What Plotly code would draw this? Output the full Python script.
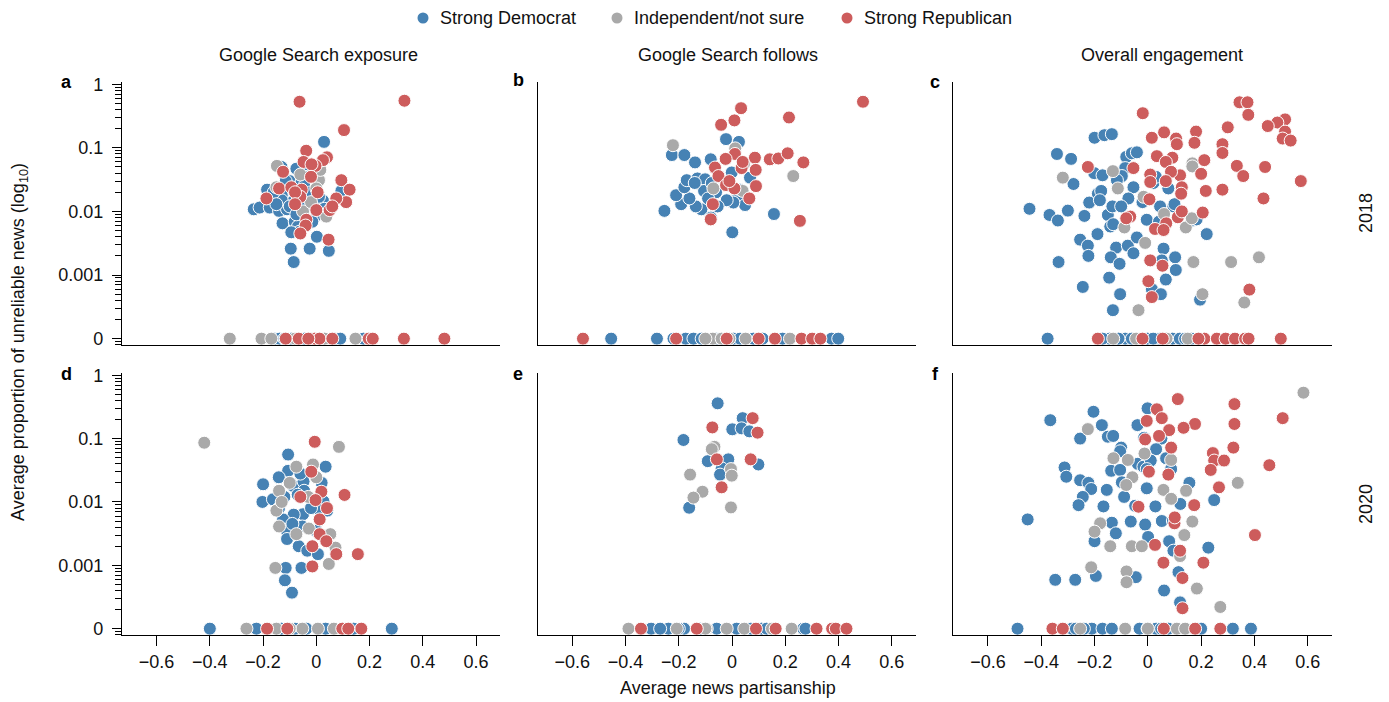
import plotly.graph_objects as go

# ---------------- data (x = average news partisanship, y = proportion unreliable; 0 = none) ----------------
PARTIES = ["Strong Democrat", "Independent/not sure", "Strong Republican"]
COLORS = ["#4682B4", "#A9A9A9", "#CD5C5C"]
COLUMN_TITLES = ["Google Search exposure", "Google Search follows", "Overall engagement"]
ROW_TITLES = ["2018", "2020"]
PANEL_LETTERS = ["a", "b", "c", "d", "e", "f"]
X_TICKS = [-0.6, -0.4, -0.2, 0, 0.2, 0.4, 0.6]
X_TICK_LABELS = ["\u22120.6", "\u22120.4", "\u22120.2", "0", "0.2", "0.4", "0.6"]
Y_TICK_LABELS = ["0", "0.001", "0.01", "0.1", "1"]

# ---- panel a: Google Search exposure, 2018
A_DEM_X = [0.029, -0.131, -0.053, -0.075, -0.034, 0.094, -0.185, -0.235, -0.213, -0.175, -0.14, -0.11, -0.088, -0.05,
           0.025, 0.002, -0.015, -0.127, -0.081, -0.069, -0.063, -0.094, 0.002, -0.096, -0.025, 0.047, -0.085, -0.13,
           -0.1, -0.07, -0.03, -0.01, -0.055, -0.115, -0.13, 0.03, -0.16, -0.045, -0.02, -0.1, -0.075, 0.01, -0.04,
           -0.15,
           -0.156, -0.138, -0.094, -0.044, 0.081, 0.177, -0.12, -0.02, 0.07, 0.09]
A_DEM_Y = [0.124, 0.05, 0.046, 0.047, 0.035, 0.021, 0.022, 0.0108, 0.0115, 0.0115, 0.0102, 0.0108, 0.0143, 0.0091,
           0.0148, 0.0088, 0.0069, 0.0065, 0.0069, 0.0058, 0.0048, 0.0047, 0.004, 0.0026, 0.0026, 0.0024, 0.0016, 0.018,
           0.03, 0.015, 0.017, 0.013, 0.03, 0.03, 0.015, 0.011, 0.02, 0.025, 0.02, 0.012, 0.009, 0.017, 0.012,
           0.013,
           0, 0, 0, 0, 0, 0, 0, 0, 0, 0]
A_IND_X = [-0.148, 0.01, 0.0, -0.15, 0.0375, -0.06, -0.05, 0.015, -0.02,
           -0.325, -0.206, -0.169, 0.031, 0.147, -0.08, 0.0]
A_IND_Y = [0.052, 0.031, 0.023, 0.024, 0.0083, 0.038, 0.01, 0.045, 0.014,
           0, 0, 0, 0, 0, 0, 0]
A_REP_X = [-0.063, 0.331, 0.104, -0.038, 0.04, 0.025, -0.048, -0.003, -0.018, -0.125, 0.094, 0.125, 0.112, 0.075,
           -0.14, -0.094, -0.055, -0.1875, 0.0, 0.05, -0.0375, 0.046, -0.06, -0.08, -0.08, 0.005, -0.04, -0.06, -0.02,
           0.06,
           -0.115, -0.066, -0.006, 0.012, 0.06, 0.197, 0.212, 0.329, 0.481, -0.03]
A_REP_Y = [0.53, 0.55, 0.19, 0.09, 0.071, 0.064, 0.06, 0.052, 0.055, 0.042, 0.031, 0.022, 0.014, 0.016,
           0.023, 0.024, 0.022, 0.016, 0.0105, 0.0105, 0.0074, 0.0036, 0.017, 0.02, 0.013, 0.02, 0.006, 0.0045, 0.035,
           0.012,
           0, 0, 0, 0, 0, 0, 0, 0, 0, 0]

# ---- panel b: Google Search follows, 2018
B_DEM_X = [-0.0225, 0.026, -0.226, -0.179, -0.139, -0.08, -0.001, 0.0675, 0.024, 0.049, 0.005, -0.02, -0.054, -0.115,
           -0.136, -0.191, -0.254, -0.21, -0.16, -0.179, -0.17, -0.1225, -0.13, -0.101, -0.105, -0.076, -0.079, 0.001,
           0.1575, -0.14, -0.06, -0.09, 0.03,
           -0.454, -0.282, -0.22, -0.174, -0.145, -0.114, 0.005, 0.08, 0.115, 0.19, 0.374, 0.399, -0.06, 0.03]
B_DEM_Y = [0.137, 0.124, 0.077, 0.077, 0.059, 0.066, 0.041, 0.034, 0.018, 0.0126, 0.0138, 0.015, 0.012, 0.0108,
           0.012, 0.013, 0.0102, 0.018, 0.016, 0.024, 0.031, 0.027, 0.033, 0.032, 0.021, 0.028, 0.008, 0.0047,
           0.0091, 0.028, 0.02, 0.016, 0.022,
           0, 0, 0, 0, 0, 0, 0, 0, 0, 0, 0, 0, 0, 0]
B_IND_X = [-0.222, 0.012, 0.045, 0.23, 0.04, -0.07,
           -0.072, -0.039, -0.01, 0.051, 0.2175, -0.1]
B_IND_Y = [0.11, 0.098, 0.056, 0.036, 0.021, 0.023,
           0, 0, 0, 0, 0, 0]
B_REP_X = [0.492, 0.034, 0.009, -0.041, 0.214, 0.011, -0.024, 0.036, 0.086, 0.142, 0.174, 0.209, 0.268, 0.089,
           -0.064, -0.051, 0.09, -0.0225, 0.009, 0.065, -0.072, -0.08, 0.255, 0.04, -0.01,
           -0.56, -0.21, 0.161, 0.261, 0.301, 0.332, 0.1, -0.02]
B_REP_Y = [0.53, 0.42, 0.27, 0.23, 0.30, 0.08, 0.067, 0.048, 0.07, 0.066, 0.068, 0.082, 0.059, 0.045,
           0.049, 0.036, 0.025, 0.026, 0.023, 0.016, 0.013, 0.0075, 0.0071, 0.06, 0.03,
           0, 0, 0, 0, 0, 0, 0, 0]

# ---- panel c: Overall engagement, 2018
C_DEM_X = [-0.2, -0.163, -0.135, -0.341, -0.288, -0.081, -0.06, -0.041, -0.085, -0.0975, -0.201, -0.17, -0.279,
           -0.116, -0.1875, -0.175, -0.054, 0.021, 0.077, -0.073, -0.22, -0.18, -0.444, -0.369, -0.3375, -0.3, -0.238,
           -0.15, -0.133, -0.1, -0.141, -0.13, 0.046, 0.096, -0.004, 0.042, 0.167, 0.183, 0.221, -0.189, -0.254,
           -0.225, -0.223, -0.335, -0.119, -0.075, -0.054, -0.139, -0.106, -0.041, 0.059, 0.0525, 0.1025, 0.105,
           0.0675, 0.015, 0.049, -0.104, -0.244, -0.131, -0.145, 0.196, 0.1, 0.03, -0.02,
           -0.376, -0.144, -0.085, -0.001, 0.046, 0.092, 0.1625, -0.17, -0.11, 0.02, 0.12, -0.06, 0.14]
C_DEM_Y = [0.144, 0.158, 0.164, 0.08, 0.067, 0.072, 0.082, 0.085, 0.048, 0.036, 0.04, 0.037, 0.027,
           0.031, 0.019, 0.021, 0.024, 0.028, 0.023, 0.016, 0.0138, 0.015, 0.011, 0.0088, 0.0072, 0.0103, 0.0085,
           0.0088, 0.012, 0.012, 0.0058, 0.0063, 0.012, 0.012, 0.0074, 0.0069, 0.0072, 0.0075, 0.0044, 0.0044, 0.0036,
           0.0029, 0.002, 0.0016, 0.0027, 0.0029, 0.0022, 0.0019, 0.0015, 0.0039, 0.0026, 0.0017, 0.0019, 0.0012,
           0.00085, 0.0006, 0.0005, 0.0005, 0.00065, 0.00028, 0.00091, 0.00041, 0.013, 0.035, 0.014,
           0, 0, 0, 0, 0, 0, 0, 0, 0, 0, 0, 0, 0]
C_IND_X = [0.167, 0.167, -0.319, -0.131, -0.1125, -0.016, 0.061, -0.088, 0.1425, -0.01, 0.171, 0.3125, 0.417, 0.205,
           0.362, -0.035, 0.165,
           -0.044, 0.07, -0.13, 0.15]
C_IND_Y = [0.057, 0.051, 0.034, 0.043, 0.023, 0.017, 0.0091, 0.0056, 0.0056, 0.0032, 0.0016, 0.0016, 0.0019, 0.0005,
           0.00037, 0.00028, 0.0078,
           0, 0, 0, 0]
C_REP_X = [0.344, 0.374, 0.377, -0.019, 0.515, 0.486, 0.45, 0.515, 0.506, 0.536, 0.3, 0.181, 0.061, 0.015, 0.106,
           0.109, 0.175, 0.28, 0.28, 0.034, 0.092, 0.0675, 0.212, 0.334, 0.358, 0.44, 0.574, 0.434, 0.28, 0.2175, 0.2,
           0.121, 0.087, 0.0675, 0.009, 0.009, -0.054, -0.225, 0.1275, 0.125, 0.006, 0.206, 0.1125, 0.1275, 0.069,
           0.027, 0.059, -0.066, -0.081, 0.009, 0.055, 0.002, 0.015, 0.381,
           -0.1875, 0.056, 0.212, 0.259, 0.292, 0.327, 0.365, 0.378, 0.499, 0.19, -0.02]
C_REP_Y = [0.52, 0.52, 0.33, 0.35, 0.28, 0.25, 0.22, 0.18, 0.14, 0.13, 0.21, 0.18, 0.175, 0.144, 0.14,
           0.114, 0.12, 0.114, 0.083, 0.074, 0.07, 0.06, 0.064, 0.052, 0.036, 0.05, 0.03, 0.016, 0.022, 0.021, 0.039,
           0.037, 0.042, 0.03, 0.038, 0.029, 0.048, 0.05, 0.024, 0.019, 0.0155, 0.0096, 0.0081, 0.01, 0.0065,
           0.0053, 0.0051, 0.0083, 0.0078, 0.0017, 0.0014, 0.0008, 0.00045, 0.00059,
           0, 0, 0, 0, 0, 0, 0, 0, 0, 0, 0]

# ---- panel d: Google Search exposure, 2020
D_DEM_X = [-0.106, 0.035, -0.106, -0.141, -0.2, -0.0875, -0.048, -0.046, 0.027, -0.2025, -0.163, 0.041, 0.006, -0.05,
           -0.085, -0.125, -0.0525, -0.1125, -0.11, -0.066, -0.034, 0.006, -0.115, -0.056, -0.118, -0.0915, -0.12,
           -0.07, -0.02, -0.09, 0.0, -0.14, 0.02, -0.06,
           -0.4, -0.225, -0.131, -0.0375, 0.035, 0.14, 0.2835, -0.08, 0.1]
D_DEM_Y = [0.056, 0.036, 0.031, 0.0245, 0.019, 0.018, 0.021, 0.015, 0.0102, 0.01, 0.011, 0.0073, 0.0077, 0.0064,
           0.0063, 0.0053, 0.0041, 0.0036, 0.0026, 0.002, 0.0017, 0.0015, 0.00091, 0.00091, 0.00058, 0.00037, 0.012,
           0.013, 0.008, 0.0045, 0.0035, 0.008, 0.02, 0.028,
           0, 0, 0, 0, 0, 0, 0, 0, 0]
D_IND_X = [-0.421, 0.085, -0.0125, -0.075, 0.0, -0.14, -0.15, -0.14, -0.028, -0.075, 0.0525, 0.072, 0.047, -0.154,
           -0.1, -0.03, -0.13,
           -0.2625, -0.15, -0.0525, 0.006, 0.066, -0.1]
D_IND_Y = [0.086, 0.074, 0.039, 0.036, 0.0245, 0.015, 0.0073, 0.0041, 0.0038, 0.0031, 0.0031, 0.0019, 0.00105,
           0.00091, 0.02, 0.012, 0.01,
           0, 0, 0, 0, 0, 0]
D_REP_X = [-0.006, -0.019, 0.019, 0.106, -0.003, 0.0125, 0.0125, 0.0375, 0.075, -0.015, 0.156, -0.015, -0.06, 0.04,
           -0.185, -0.109, 0.0975, 0.169, 0.12]
D_REP_Y = [0.089, 0.03, 0.0145, 0.0129, 0.0107, 0.0053, 0.0031, 0.0024, 0.0015, 0.002, 0.0015, 0.00096, 0.012, 0.008,
           0, 0, 0, 0, 0]

# ---- panel e: Google Search follows, 2020
E_DEM_X = [-0.054, 0.04, 0.001, 0.036, 0.065, -0.1825, -0.091, -0.014, 0.099, -0.039, -0.045, -0.161,
           -0.304, -0.239, -0.18, -0.0575, 0.0175, 0.071, 0.111, 0.2675, 0.276, -0.27, -0.2, 0.13, -0.12]
E_DEM_Y = [0.36, 0.21, 0.14, 0.145, 0.13, 0.095, 0.044, 0.047, 0.039, 0.034, 0.027, 0.0081,
           0, 0, 0, 0, 0, 0, 0, 0, 0, 0, 0, 0, 0]
E_IND_X = [-0.066, -0.076, -0.004, -0.001, -0.1575, -0.111, -0.145, -0.004,
           -0.389, -0.2075, -0.095, -0.02, 0.046, 0.224, -0.1, 0.15]
E_IND_Y = [0.074, 0.068, 0.033, 0.026, 0.027, 0.0145, 0.0117, 0.0082,
           0, 0, 0, 0, 0, 0, 0, 0]
E_REP_X = [0.0775, -0.074, 0.096, -0.057, 0.07, -0.039,
           -0.342, -0.1325, 0.164, 0.3175, 0.376, 0.39, 0.43, 0.09]
E_REP_Y = [0.21, 0.15, 0.124, 0.047, 0.047, 0.017,
           0, 0, 0, 0, 0, 0, 0, 0]

# ---- panel f: Overall engagement, 2020
F_DEM_X = [-0.366, -0.204, -0.001, -0.1725, -0.039, -0.254, -0.15, -0.13, -0.014, 0.051, -0.1, -0.104, 0.031, 0.0686,
           -0.3125, -0.306, -0.254, -0.223, -0.2125, -0.1375, -0.104, -0.0375, -0.0165, 0.011, -0.004, 0.0875,
           -0.0975, -0.154, -0.089, -0.004, 0.156, -0.244, -0.26, -0.1665, -0.0476, 0.0285, 0.122, 0.249, -0.451,
           -0.135, -0.064, -0.01, 0.0525, 0.094, -0.12, -0.2, 0.001, 0.08, 0.096, 0.227, -0.3475, -0.2725, -0.195,
           -0.045, 0.061, 0.115, 0.121,
           -0.489, -0.285, -0.27, -0.21, -0.17, -0.135, -0.031, -0.001, 0.031, 0.077, 0.319, 0.387, 0.2, -0.24, 0.05]
F_DEM_Y = [0.195, 0.265, 0.3, 0.163, 0.163, 0.1, 0.107, 0.11, 0.103, 0.1, 0.072, 0.063, 0.068, 0.049,
           0.035, 0.025, 0.022, 0.02, 0.016, 0.031, 0.032, 0.04, 0.036, 0.045, 0.033, 0.033,
           0.0204, 0.0155, 0.012, 0.0164, 0.02, 0.012, 0.0089, 0.0085, 0.0087, 0.0085, 0.0093, 0.0107, 0.0053,
           0.0047, 0.0049, 0.0044, 0.005, 0.005, 0.0032, 0.0024, 0.0028, 0.0024, 0.0017, 0.0019, 0.00059, 0.00059,
           0.00068, 0.00065, 0.0004, 0.00078, 0.00026,
           0, 0, 0, 0, 0, 0, 0, 0, 0, 0, 0, 0, 0, 0, 0]
F_IND_X = [0.584, -0.225, -0.129, -0.075, -0.0125, 0.0875, -0.058, -0.081, 0.0585, 0.1435, 0.0875, 0.3375, -0.179,
           -0.2, 0.167, 0.137, -0.141, -0.06, -0.0225, 0.121, -0.2125, -0.08, -0.08, 0.184, 0.272,
           -0.254, -0.085, 0.109, 0.14, 0.0]
F_IND_Y = [0.53, 0.141, 0.049, 0.046, 0.058, 0.046, 0.0245, 0.0185, 0.0155, 0.015, 0.0112, 0.02, 0.0046,
           0.0034, 0.0049, 0.003, 0.002, 0.002, 0.002, 0.0014, 0.00093, 0.0008, 0.00054, 0.00043, 0.00022,
           0, 0, 0, 0, 0]
F_REP_X = [0.506, 0.1125, 0.325, 0.325, 0.177, 0.134, 0.08, 0.034, 0.0525, -0.004, 0.042, -0.01, 0.0875, 0.321,
           0.244, 0.249, 0.286, 0.236, 0.456, 0.267, 0.077, 0.004, 0.174, 0.1, 0.402, 0.027, 0.121, 0.0585, 0.2085,
           0.13, 0.13, -0.035, 0.101,
           -0.358, -0.319, 0.1775, 0.272, 0.06]
F_REP_Y = [0.21, 0.42, 0.35, 0.17, 0.17, 0.148, 0.136, 0.29, 0.21, 0.19, 0.11, 0.097, 0.072, 0.072,
           0.059, 0.045, 0.045, 0.032, 0.038, 0.017, 0.027, 0.03, 0.0089, 0.0046, 0.003, 0.0021, 0.0017, 0.0011, 0.0011,
           0.00063, 0.00021, 0.0084, 0.0057,
           0, 0, 0, 0, 0]

PANELS = [
    [(A_DEM_X, A_DEM_Y), (A_IND_X, A_IND_Y), (A_REP_X, A_REP_Y)],
    [(B_DEM_X, B_DEM_Y), (B_IND_X, B_IND_Y), (B_REP_X, B_REP_Y)],
    [(C_DEM_X, C_DEM_Y), (C_IND_X, C_IND_Y), (C_REP_X, C_REP_Y)],
    [(D_DEM_X, D_DEM_Y), (D_IND_X, D_IND_Y), (D_REP_X, D_REP_Y)],
    [(E_DEM_X, E_DEM_Y), (E_IND_X, E_IND_Y), (E_REP_X, E_REP_Y)],
    [(F_DEM_X, F_DEM_Y), (F_IND_X, F_IND_Y), (F_REP_X, F_REP_Y)],
]

# exact zeros are shown one decade below 0.001 on the log axis (labelled "0")
ZERO_POS = 1e-4
Y_TICKS = [ZERO_POS, 1e-3, 1e-2, 1e-1, 1]
MINOR_TICKS = [k * 10.0 ** e for e in range(-5, 0) for k in range(2, 10)]

# ---------------- layout geometry (pixels) ----------------
W, H = 1389, 702
ML, MR, MT, MB = 122, 57, 82, 67
PW, PH = W - ML - MR, H - MT - MB


def fx(px):
    return (px - ML) / PW


def fy(py):
    return (H - MB - py) / PH


COL_PX = [(122, 500), (537.7, 915.7), (953.3, 1331.7)]
ROW_PX = [(82, 345), (373, 635)]
FONT = "Liberation Sans, Arial, Helvetica, sans-serif"
FS = 18

fig = go.Figure()
layout = dict(
    width=W, height=H,
    margin=dict(l=ML, r=MR, t=MT, b=MB, pad=0, autoexpand=False),
    paper_bgcolor="white", plot_bgcolor="white",
    font=dict(family=FONT, size=FS, color="#111111"),
    showlegend=False,
    template="none",
)

for i in range(6):
    r, c = divmod(i, 3)
    n = "" if i == 0 else str(i + 1)
    for p in range(3):
        xs, ys = PANELS[i][p]
        fig.add_trace(go.Scatter(
            x=xs, y=[v if v > 0 else ZERO_POS for v in ys],
            mode="markers", name=PARTIES[p], legendgroup=PARTIES[p], showlegend=False,
            marker=dict(color=COLORS[p], size=13, line=dict(color="white", width=1)),
            xaxis="x" + n, yaxis="y" + n, hoverinfo="skip"))
    x0, x1 = COL_PX[c]
    y0, y1 = ROW_PX[r]
    xa = dict(domain=[fx(x0), fx(x1)], range=[-0.73, 0.69], anchor="y" + n,
              showline=True, linecolor="black", linewidth=1.3, showgrid=False, zeroline=False,
              tickvals=X_TICKS, ticktext=X_TICK_LABELS, tickfont=dict(size=FS))
    if r == 1:
        xa.update(ticks="outside", ticklen=10, tickwidth=1.3, tickcolor="black", showticklabels=True)
    else:
        xa.update(ticks="", showticklabels=False)
    ya = dict(domain=[fy(y1), fy(y0)], type="log", range=[-4.1, 0.035], anchor="x" + n,
              showline=True, linecolor="black", linewidth=1.3, showgrid=False, zeroline=False,
              tickvals=Y_TICKS, ticktext=Y_TICK_LABELS, tickfont=dict(size=FS))
    if c == 0:
        ya.update(ticks="outside", ticklen=9, tickwidth=1.2, tickcolor="black", showticklabels=True,
                  ticklabelstandoff=5,
                  minor=dict(tickmode="array", tickvals=MINOR_TICKS, ticks="outside", ticklen=6,
                             tickwidth=1, tickcolor="black", showgrid=False))
    else:
        ya.update(ticks="", showticklabels=False)
    layout["xaxis" + n] = xa
    layout["yaxis" + n] = ya

fig.update_layout(**layout)

ann = []
shapes = []
# legend (drawn as key dots + labels along the top)
LEGEND_DOT_PX = [423, 617, 847]
for name, col, px in zip(PARTIES, COLORS, LEGEND_DOT_PX):
    shapes.append(dict(type="circle", xref="paper", yref="paper", xsizemode="pixel", ysizemode="pixel",
                       xanchor=fx(px), yanchor=fy(18), x0=-5.5, x1=5.5, y0=-5.5, y1=5.5,
                       fillcolor=col, line=dict(width=0)))
    ann.append(dict(text=name, x=fx(px + 15), y=fy(18), xref="paper", yref="paper", showarrow=False,
                    xanchor="left", yanchor="middle", font=dict(size=FS)))
# panel letters
LETTER_POS = [(66, 82), (518, 80), (935, 82), (66, 374), (518, 374), (935, 374)]
for letter, (px, py) in zip(PANEL_LETTERS, LETTER_POS):
    ann.append(dict(text="<b>%s</b>" % letter, x=fx(px), y=fy(py), xref="paper", yref="paper",
                    showarrow=False, xanchor="center", yanchor="middle", font=dict(size=FS, color="black")))
# column titles
for t, px in zip(COLUMN_TITLES, [318, 728, 1162]):
    ann.append(dict(text=t, x=fx(px), y=fy(55), xref="paper", yref="paper", showarrow=False,
                    xanchor="center", yanchor="middle", font=dict(size=FS)))
# row titles
for t, py in zip(ROW_TITLES, [213, 504]):
    ann.append(dict(text=t, x=fx(1366), y=fy(py), xref="paper", yref="paper", showarrow=False,
                    textangle=-90, xanchor="center", yanchor="middle", font=dict(size=FS)))
# axis titles
ann.append(dict(text="Average proportion of unreliable news (log<sub>10</sub>)", x=fx(19), y=fy(342),
                xref="paper", yref="paper", showarrow=False, textangle=-90,
                xanchor="center", yanchor="middle", font=dict(size=FS)))
ann.append(dict(text="Average news partisanship", x=fx(728), y=fy(688), xref="paper", yref="paper",
                showarrow=False, xanchor="center", yanchor="middle", font=dict(size=FS)))
fig.update_layout(annotations=ann, shapes=shapes)

fig.write_html("out.html")
